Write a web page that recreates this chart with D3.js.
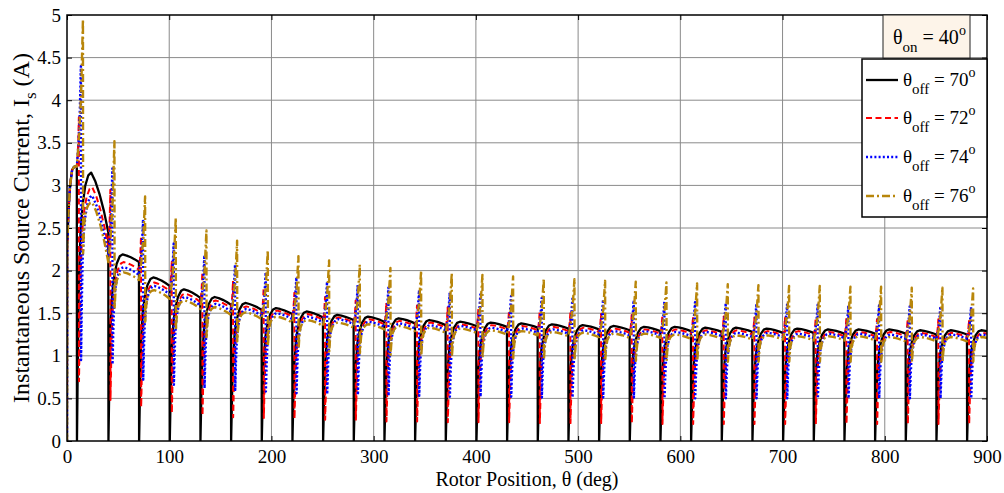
<!DOCTYPE html>
<html>
<head>
<meta charset="utf-8">
<script src="https://cdn.jsdelivr.net/npm/d3@7"></script>
<style>
  body { margin: 0; background: #fff; }
  text { font-family: "Liberation Serif", "Times New Roman", serif; fill: #000; }
</style>
</head>
<body>
<div id="chart"></div>
<script>
// ---- data ----
var xTickLabels = [0, 100, 200, 300, 400, 500, 600, 700, 800, 900];
var yTickLabels = [0, 0.5, 1, 1.5, 2, 2.5, 3, 3.5, 4, 4.5, 5];

var legendLabels = ["70", "72", "74", "76"];
var overlapDeg = [0, 2, 4, 6];       // how far past the commutation each spike runs

// start-up part, before the first commutation
var startAngles = [0, 0.2, 1.5, 3, 5, 7];
var startValues = [0, 2.3, 2.7, 3.0, 3.18, 3.22];

// commutation angles (deg)
var cycleStart = [9.6, 40.4, 70.4, 100.4, 130.4, 160.4, 190.4, 220.4, 250.4, 280.4,
                  310.4, 340.4, 370.4, 400.4, 430.4, 460.4, 490.4, 520.4, 550.4, 580.4,
                  610.4, 640.4, 670.4, 700.4, 730.4, 760.4, 790.4, 820.4, 850.4, 880.4];

// hump tops per cycle
var blackPeak = [3.15, 2.19, 1.92, 1.78, 1.69, 1.62, 1.56, 1.52, 1.48, 1.46, 1.44, 1.42, 1.40, 1.39, 1.38,
                 1.37, 1.36, 1.35, 1.34, 1.34, 1.33, 1.33, 1.32, 1.32, 1.31, 1.31, 1.31, 1.30, 1.30, 1.30];
var redPeak   = [2.98, 2.10, 1.86, 1.73, 1.65, 1.58, 1.53, 1.49, 1.45, 1.43, 1.41, 1.39, 1.37, 1.36, 1.35,
                 1.34, 1.33, 1.32, 1.31, 1.31, 1.30, 1.30, 1.29, 1.29, 1.28, 1.28, 1.28, 1.27, 1.27, 1.27];
var bluePeak  = [2.88, 2.04, 1.82, 1.69, 1.61, 1.55, 1.50, 1.46, 1.43, 1.40, 1.38, 1.36, 1.35, 1.33, 1.32,
                 1.31, 1.30, 1.29, 1.29, 1.28, 1.28, 1.27, 1.27, 1.26, 1.26, 1.26, 1.25, 1.25, 1.25, 1.25];
var goldPeak  = [2.80, 1.98, 1.77, 1.65, 1.57, 1.51, 1.46, 1.42, 1.39, 1.37, 1.35, 1.33, 1.32, 1.30, 1.29,
                 1.28, 1.27, 1.26, 1.26, 1.25, 1.25, 1.24, 1.24, 1.23, 1.23, 1.23, 1.22, 1.22, 1.22, 1.22];

// drop of the hump from its top to the next commutation
var sag = [0.70, 0.09, 0.10, 0.10, 0.09, 0.08, 0.07, 0.07, 0.06, 0.06, 0.06, 0.06, 0.05, 0.05, 0.05,
           0.05, 0.05, 0.05, 0.05, 0.05, 0.05, 0.05, 0.05, 0.05, 0.05, 0.05, 0.05, 0.05, 0.05, 0.05];

// spike tops after each commutation
var redSpike  = [3.80, 2.95, 2.40, 2.10, 1.98, 1.88, 1.80, 1.74, 1.69, 1.65, 1.62, 1.59, 1.57, 1.55, 1.53,
                 1.52, 1.50, 1.49, 1.48, 1.47, 1.46, 1.46, 1.45, 1.45, 1.44, 1.44, 1.43, 1.43, 1.43, 1.42];
var blueSpike = [4.40, 3.20, 2.60, 2.32, 2.18, 2.07, 1.98, 1.92, 1.87, 1.83, 1.80, 1.77, 1.74, 1.72, 1.70,
                 1.68, 1.67, 1.66, 1.65, 1.64, 1.63, 1.62, 1.61, 1.60, 1.60, 1.59, 1.59, 1.58, 1.58, 1.57];
var goldSpike = [4.95, 3.52, 2.87, 2.62, 2.47, 2.35, 2.24, 2.17, 2.12, 2.07, 2.03, 2.00, 1.97, 1.95, 1.93,
                 1.91, 1.90, 1.88, 1.87, 1.86, 1.85, 1.84, 1.83, 1.82, 1.82, 1.81, 1.81, 1.80, 1.80, 1.79];

// lowest point after the spike
var redValley  = [0.70, 0.48, 0.40, 0.33, 0.30, 0.28, 0.27, 0.26, 0.25, 0.24, 0.23, 0.23, 0.22, 0.22, 0.22,
                  0.21, 0.21, 0.21, 0.21, 0.20, 0.20, 0.20, 0.20, 0.20, 0.20, 0.20, 0.20, 0.20, 0.20, 0.20];
var blueValley = [0.95, 0.90, 0.72, 0.66, 0.62, 0.60, 0.58, 0.56, 0.55, 0.54, 0.53, 0.53, 0.52, 0.52, 0.52,
                  0.51, 0.51, 0.51, 0.51, 0.50, 0.50, 0.50, 0.50, 0.50, 0.50, 0.50, 0.50, 0.50, 0.50, 0.50];
var goldValley = [2.20, 1.55, 1.40, 1.30, 1.22, 1.17, 1.12, 1.08, 1.05, 1.03, 1.01, 1.00, 0.99, 0.98, 0.97,
                  0.96, 0.95, 0.95, 0.94, 0.94, 0.94, 0.93, 0.93, 0.93, 0.93, 0.93, 0.93, 0.93, 0.93, 0.93];

// shape of a cycle (fractions), not values
var spikeShape = [[0.4, 0.22], [0.7, 0.5], [1, 1]];
var riseShape = [[0.07, 0.35], [0.14, 0.6], [0.25, 0.78], [0.4, 0.88], [0.58, 0.95], [0.8, 0.99], [1, 1]];
var fallShape = [[0.25, 0.15], [0.5, 0.37], [0.75, 0.65], [1, 1]];

// ---- layout ----
var svgWidth = 1004, svgHeight = 493;
var margin = { top: 15, right: 17, bottom: 52, left: 67 };
var width = svgWidth - margin.left - margin.right;
var height = svgHeight - margin.top - margin.bottom;

var svg = d3.select("#chart").append("svg")
    .attr("width", svgWidth)
    .attr("height", svgHeight);

var chartGroup = svg.append("g")
    .attr("transform", `translate(${margin.left}, ${margin.top})`);

var xScale = d3.scaleLinear().domain([0, 900]).range([0, width]);
var yScale = d3.scaleLinear().domain([0, 5]).range([height, 0]);

// grid
chartGroup.append("g").selectAll("line").data(xTickLabels.slice(1, -1)).enter().append("line")
    .attr("x1", d => xScale(d)).attr("x2", d => xScale(d))
    .attr("y1", 0).attr("y2", height)
    .attr("stroke", "#8a8a8a").attr("stroke-width", 1);
chartGroup.append("g").selectAll("line").data(yTickLabels.slice(1, -1)).enter().append("line")
    .attr("y1", d => yScale(d)).attr("y2", d => yScale(d))
    .attr("x1", 0).attr("x2", width)
    .attr("stroke", "#8a8a8a").attr("stroke-width", 1);

// axes
var bottomAxis = d3.axisBottom(xScale).tickValues(xTickLabels).tickSizeInner(-5).tickSizeOuter(0).tickPadding(9);
var leftAxis = d3.axisLeft(yScale).tickValues(yTickLabels).tickSizeInner(-5).tickSizeOuter(0).tickPadding(6)
    .tickFormat(d3.format("~g"));
var topAxis = d3.axisTop(xScale).tickValues(xTickLabels).tickSizeInner(-5).tickSizeOuter(0).tickFormat("");
var rightAxis = d3.axisRight(yScale).tickValues(yTickLabels).tickSizeInner(-5).tickSizeOuter(0).tickFormat("");

[[bottomAxis, `translate(0, ${height})`], [leftAxis, null],
 [topAxis, null], [rightAxis, `translate(${width}, 0)`]].forEach(function(a) {
    var g = chartGroup.append("g").call(a[0]);
    if (a[1]) g.attr("transform", a[1]);
    g.select(".domain").remove();
    g.selectAll("line").attr("stroke", "#000");
    g.selectAll("text").attr("font-size", "19px")
        .attr("font-family", "Liberation Serif, serif").attr("fill", "#000");
});

// curves
function buildSeries(peak, spike, valley, overlap, peakAt) {
    var pts = startAngles.map(function(a, i) { return [a, startValues[i]]; });
    var prevEnd = startValues[startValues.length - 1];
    cycleStart.forEach(function(t0, i) {
        var t1 = i + 1 < cycleStart.length ? cycleStart[i + 1] : t0 + 30;
        var P = peak[i];
        var v = valley ? valley[i] : 0;
        pts.push([t0, prevEnd]);
        if (overlap > 0) {
            spikeShape.forEach(function(s) {
                pts.push([t0 + s[0] * overlap, prevEnd + s[1] * (spike[i] - prevEnd)]);
            });
        }
        var tv = t0 + overlap + 0.15;
        pts.push([tv, v]);
        riseShape.forEach(function(r) {
            pts.push([tv + r[0] * (t0 + peakAt - tv), v + r[1] * (P - v)]);
        });
        fallShape.forEach(function(f) {
            pts.push([t0 + peakAt + f[0] * (t1 - t0 - peakAt), P - f[1] * sag[i]]);
        });
        prevEnd = P - sag[i];
    });
    return pts;
}

var series = [
    { pts: buildSeries(blackPeak, null, null, overlapDeg[0], 14), color: "#000000", width: 2.3, dash: null },
    { pts: buildSeries(redPeak, redSpike, redValley, overlapDeg[1], 15), color: "#ff0000", width: 2, dash: "6,3.5" },
    { pts: buildSeries(bluePeak, blueSpike, blueValley, overlapDeg[2], 15), color: "#0000ff", width: 2.4, dash: "2,2.2" },
    { pts: buildSeries(goldPeak, goldSpike, goldValley, overlapDeg[3], 15), color: "#b8860b", width: 2.4, dash: "8,3,2,3" }
];

chartGroup.append("clipPath").attr("id", "plotClip")
    .append("rect").attr("x", 0).attr("y", -2).attr("width", width).attr("height", height + 2);

var line = d3.line().x(d => xScale(d[0])).y(d => yScale(d[1]));

chartGroup.append("g").attr("clip-path", "url(#plotClip)")
    .selectAll("path").data(series).enter().append("path")
    .attr("d", d => line(d.pts))
    .attr("fill", "none")
    .attr("stroke", d => d.color)
    .attr("stroke-width", d => d.width)
    .attr("stroke-dasharray", d => d.dash)
    .attr("stroke-linejoin", "round");

// frame
chartGroup.append("rect")
    .attr("width", width).attr("height", height)
    .attr("fill", "none").attr("stroke", "#000").attr("stroke-width", 1.5);

// theta_on box
var onBox = svg.append("g");
onBox.append("rect")
    .attr("x", 883).attr("y", 15).attr("width", 87).attr("height", 43)
    .attr("fill", "#fdf4e9").attr("stroke", "#222").attr("stroke-width", 1);
var onText = onBox.append("text").attr("x", 893).attr("y", 44).attr("font-size", "20px");
onText.append("tspan").text("θ");
onText.append("tspan").attr("dy", 8).attr("font-size", "15px").text("on");
onText.append("tspan").attr("dy", -8).text(" = 40");
onText.append("tspan").attr("dy", -9).attr("font-size", "14px").text("o");

// legend
var legend = svg.append("g");
legend.append("rect")
    .attr("x", 862).attr("y", 59).attr("width", 125).attr("height", 158)
    .attr("fill", "#fff").attr("stroke", "#000").attr("stroke-width", 1.5);

var entryY = [80, 118, 157, 196];
series.forEach(function(s, i) {
    legend.append("line")
        .attr("x1", 866).attr("x2", 898)
        .attr("y1", entryY[i]).attr("y2", entryY[i])
        .attr("stroke", s.color).attr("stroke-width", s.width)
        .attr("stroke-dasharray", s.dash);
    var t = legend.append("text").attr("x", 903).attr("y", entryY[i] + 6).attr("font-size", "19px");
    t.append("tspan").text("θ");
    t.append("tspan").attr("dy", 8).attr("font-size", "15px").text("off");
    t.append("tspan").attr("dy", -8).text(" = " + legendLabels[i]);
    t.append("tspan").attr("dy", -9).attr("font-size", "14px").text("o");
});

// axis labels
svg.append("text")
    .attr("x", margin.left + width / 2).attr("y", 486)
    .attr("text-anchor", "middle").attr("font-size", "20px")
    .text("Rotor Position, θ (deg)");

var yLabel = svg.append("text")
    .attr("transform", `translate(29, ${margin.top + height / 2}) rotate(-90)`)
    .attr("text-anchor", "middle").attr("font-size", "24px");
yLabel.append("tspan").text("Instantaneous Source Current, I");
yLabel.append("tspan").attr("dy", 7).attr("font-size", "17px").text("s");
yLabel.append("tspan").attr("dy", -7).text(" (A)");
</script>
</body>
</html>
